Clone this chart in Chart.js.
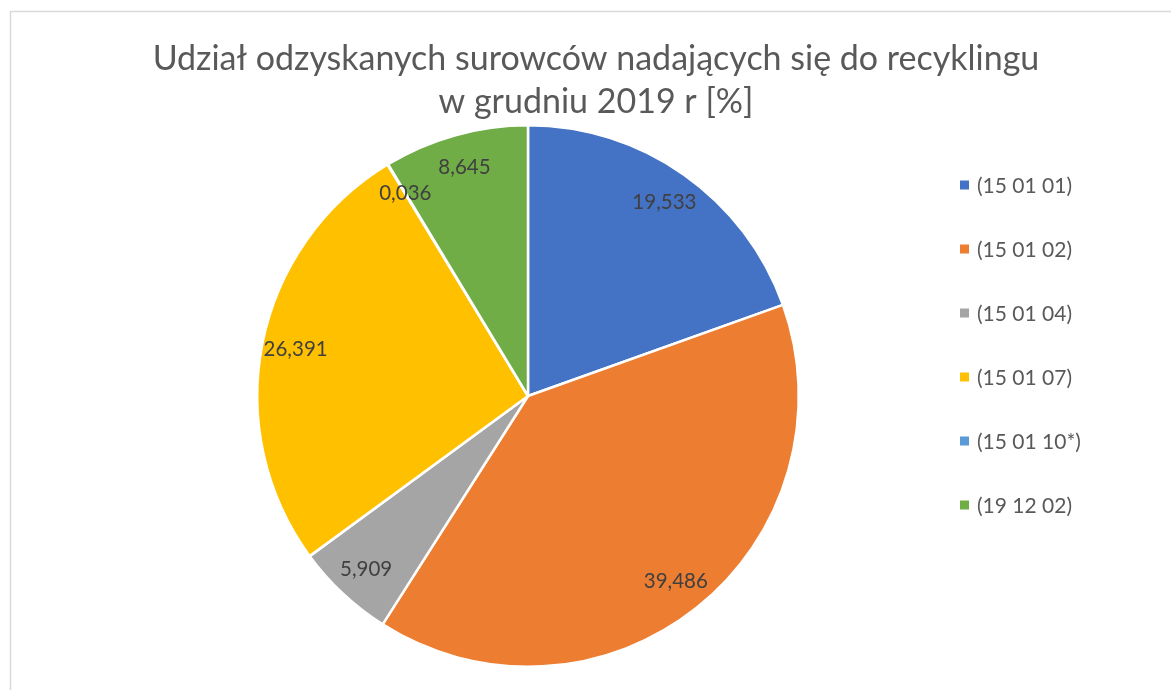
<!DOCTYPE html>
<html>
<head>
<meta charset="utf-8">
<script src="https://cdn.jsdelivr.net/npm/chart.js@4"></script>
<style>
  html, body { margin: 0; padding: 0; background: #ffffff; }
  #wrap { width: 1171px; height: 690px; position: relative; }
</style>
</head>
<body>
<div id="wrap"><canvas id="c" width="1171" height="690"></canvas></div>
<script>
const titleLines = ['Udział odzyskanych surowców nadających się do recyklingu', 'w grudniu 2019 r [%]'];
const categories = ['(15 01 01)', '(15 01 02)', '(15 01 04)', '(15 01 07)', '(15 01 10*)', '(19 12 02)'];
const shares = [19.533, 39.486, 5.909, 26.391, 0.036, 8.645];
const valueLabels = ['19,533', '39,486', '5,909', '26,391', '0,036', '8,645'];
const colors = ['#4472C4', '#ED7D31', '#A5A5A5', '#FFC000', '#5B9BD5', '#70AD47'];

const FONT = 'Lato, "Open Sans", "DejaVu Sans", sans-serif';

const framePlugin = {
  id: 'frame',
  beforeDraw(chart) {
    const ctx = chart.ctx;
    ctx.save();
    ctx.fillStyle = '#ffffff';
    ctx.fillRect(0, 0, chart.width, chart.height);
    ctx.strokeStyle = '#d9d9d9';
    ctx.lineWidth = 1.5;
    ctx.beginPath();
    ctx.moveTo(10.5, chart.height + 5);
    ctx.lineTo(10.5, 11.5);
    ctx.lineTo(chart.width + 5, 11.5);
    ctx.stroke();
    ctx.restore();
  }
};

const titlePlugin = {
  id: 'titleText',
  afterDraw(chart) {
    const ctx = chart.ctx;
    ctx.save();
    ctx.fillStyle = '#595959';
    ctx.font = '34px ' + FONT;
    ctx.textAlign = 'center';
    ctx.textBaseline = 'middle';
    ctx.fillText(titleLines[0], 596, 59);
    ctx.fillText(titleLines[1], 596, 102);
    ctx.restore();
  }
};

const legendPlugin = {
  id: 'sideLegend',
  afterDraw(chart) {
    const ctx = chart.ctx;
    const labels = chart.data.labels;
    const bg = chart.data.datasets[0].backgroundColor;
    ctx.save();
    ctx.font = '21px ' + FONT;
    ctx.textBaseline = 'middle';
    ctx.textAlign = 'left';
    labels.forEach((lab, i) => {
      const y = 185 + i * 64;
      ctx.fillStyle = bg[i];
      ctx.fillRect(960, y - 4.5, 9, 9);
      ctx.fillStyle = '#595959';
      ctx.fillText(lab, 977, y + 1);
    });
    ctx.restore();
  }
};

const dataLabelPlugin = {
  id: 'sliceLabels',
  afterDatasetsDraw(chart) {
    const ctx = chart.ctx;
    const meta = chart.getDatasetMeta(0);
    ctx.save();
    ctx.font = '20.5px ' + FONT;
    ctx.fillStyle = '#404040';
    ctx.textAlign = 'center';
    ctx.textBaseline = 'middle';
    meta.data.forEach((arc, i) => {
      const p = arc.getProps(['x', 'y', 'startAngle', 'endAngle', 'outerRadius'], true);
      const mid = (p.startAngle + p.endAngle) / 2;
      const r = p.outerRadius * 0.875;
      ctx.fillText(valueLabels[i], p.x + Math.cos(mid) * r, p.y + Math.sin(mid) * r);
    });
    ctx.restore();
  }
};

new Chart(document.getElementById('c'), {
  type: 'pie',
  data: {
    labels: categories,
    datasets: [{
      data: shares,
      backgroundColor: colors,
      borderColor: '#ffffff',
      borderWidth: 2.5
    }]
  },
  options: {
    responsive: false,
    animation: false,
    layout: { padding: { left: 256, right: 371, top: 124, bottom: 22 } },
    plugins: {
      legend: { display: false },
      title: { display: false },
      tooltip: { enabled: false }
    }
  },
  plugins: [framePlugin, titlePlugin, legendPlugin, dataLabelPlugin]
});
</script>
</body>
</html>
